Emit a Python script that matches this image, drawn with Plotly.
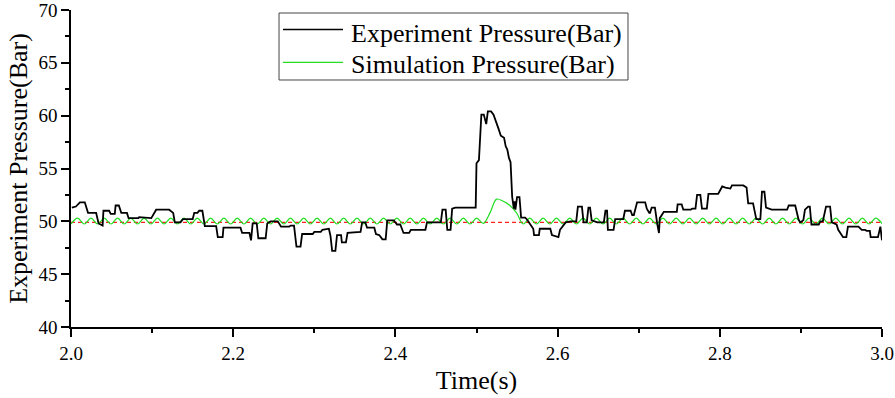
import plotly.graph_objects as go

# Experiment pressure (black) - time (s) and pressure (bar)
exp_t = [2.001, 2.006, 2.011, 2.017, 2.021, 2.031, 2.034, 2.039, 2.040, 2.047, 2.049, 2.054, 2.055, 2.059,
         2.062, 2.069, 2.071, 2.083, 2.084, 2.099, 2.105, 2.121, 2.126, 2.128, 2.135, 2.138, 2.150, 2.152,
         2.156, 2.158, 2.162, 2.164, 2.165, 2.179, 2.181, 2.187, 2.188, 2.209, 2.211, 2.220, 2.222, 2.224,
         2.229, 2.231, 2.240, 2.242, 2.246, 2.255, 2.259, 2.269, 2.271, 2.275, 2.278, 2.283, 2.285, 2.298,
         2.300, 2.308, 2.310, 2.318, 2.320, 2.322, 2.326, 2.328, 2.333, 2.334, 2.339, 2.341, 2.357, 2.359,
         2.363, 2.365, 2.374, 2.376, 2.380, 2.384, 2.388, 2.390, 2.398, 2.402, 2.406, 2.410, 2.417, 2.419,
         2.437, 2.439, 2.456, 2.458, 2.462, 2.464, 2.468, 2.470, 2.474, 2.499, 2.500, 2.503, 2.505, 2.506,
         2.509, 2.512, 2.514, 2.518, 2.521, 2.525, 2.527, 2.530, 2.534, 2.536, 2.538, 2.540, 2.542, 2.544,
         2.546, 2.547, 2.548, 2.550, 2.553, 2.555, 2.560, 2.562, 2.566, 2.570, 2.571, 2.577, 2.578, 2.591,
         2.593, 2.601, 2.603, 2.610, 2.616, 2.623, 2.625, 2.630, 2.632, 2.636, 2.638, 2.640, 2.642, 2.649,
         2.657, 2.659, 2.661, 2.662, 2.669, 2.671, 2.681, 2.683, 2.690, 2.692, 2.694, 2.698, 2.708, 2.710,
         2.713, 2.714, 2.716, 2.720, 2.723, 2.725, 2.726, 2.729, 2.731, 2.747, 2.748, 2.753, 2.755, 2.764,
         2.766, 2.770, 2.772, 2.776, 2.778, 2.784, 2.786, 2.798, 2.803, 2.807, 2.813, 2.815, 2.829, 2.833,
         2.835, 2.841, 2.845, 2.850, 2.852, 2.855, 2.857, 2.864, 2.883, 2.885, 2.893, 2.897, 2.899, 2.903,
         2.905, 2.909, 2.911, 2.913, 2.922, 2.924, 2.927, 2.931, 2.936, 2.938, 2.944, 2.946, 2.952, 2.956,
         2.958, 2.971, 2.975, 2.979, 2.981, 2.985, 2.986, 2.995, 2.998, 3.000]
exp_p = [51.3, 51.4, 51.8, 51.8, 50.8, 50.8, 49.8, 49.6, 51.0, 51.0, 50.7, 50.7, 51.5, 51.5,
         50.8, 50.8, 50.3, 50.3, 50.4, 50.3, 51.1, 51.1, 50.8, 49.9, 49.9, 50.2, 50.2, 50.8,
         50.8, 51.0, 51.0, 49.9, 49.55, 49.55, 48.5, 48.5, 49.4, 49.4, 48.9, 48.9, 48.2, 49.8,
         49.8, 48.4, 48.4, 49.8, 50.0, 50.0, 49.5, 49.5, 49.6, 49.6, 47.6, 47.6, 48.8, 48.8,
         49.0, 49.0, 49.2, 49.3, 48.6, 47.2, 47.2, 48.7, 48.7, 48.0, 48.0, 48.9, 49.0, 49.9,
         49.9, 49.4, 49.4, 48.8, 48.7, 48.3, 48.3, 50.1, 50.1, 49.7, 49.7, 48.9, 48.9, 49.2,
         49.2, 49.9, 49.9, 51.1, 51.1, 49.2, 49.2, 51.2, 51.3, 51.3, 55.5, 55.8, 58.3, 60.1,
         60.1, 59.2, 60.4, 60.4, 60.1, 59.1, 58.8, 58.1, 57.9, 57.1, 56.8, 56.0, 55.6, 52.3,
         51.2, 51.9, 51.1, 52.3, 52.3, 50.35, 50.35, 50.2, 49.8, 49.3, 48.7, 48.7, 49.3, 49.3,
         48.7, 48.5, 49.2, 49.9, 50.0, 50.0, 51.4, 51.4, 49.9, 49.9, 51.3, 51.3, 50.1, 49.9,
         49.9, 51.0, 51.0, 49.2, 49.2, 50.2, 50.2, 51.0, 51.0, 50.6, 50.6, 51.8, 51.8, 51.2,
         50.8, 50.8, 51.3, 51.3, 49.7, 48.9, 50.3, 50.6, 50.9, 50.9, 51.6, 51.6, 51.1, 51.1,
         51.2, 51.2, 52.5, 52.5, 51.2, 51.2, 52.6, 52.6, 53.3, 53.2, 53.1, 53.4, 53.4, 53.2,
         51.7, 51.7, 50.2, 50.2, 52.8, 52.8, 51.3, 51.1, 51.1, 51.5, 51.5, 50.2, 49.9, 50.1,
         51.1, 51.4, 51.4, 49.7, 49.7, 50.0, 50.0, 51.4, 51.4, 49.9, 49.7, 49.2, 48.5, 48.5,
         49.5, 49.5, 49.2, 49.2, 49.1, 49.1, 48.5, 48.5, 49.5, 48.2]

# Simulation pressure (green): half-period samples starting at 2.0 s
sim_t0 = 2.0
sim_dt = 0.0082
sim_p = [49.75, 50.3, 49.75, 50.3, 49.75, 50.3, 49.75, 50.3, 49.75, 50.3,
         49.75, 50.3, 49.75, 50.3, 49.75, 50.3, 49.75, 50.3, 49.75, 50.3,
         49.75, 50.3, 49.75, 50.3, 49.75, 50.3, 49.75, 50.3, 49.75, 50.3,
         49.75, 50.3, 49.75, 50.3, 49.75, 50.3, 49.75, 50.3, 49.75, 50.3,
         49.75, 50.3, 49.75, 50.3, 49.75, 50.3, 49.75, 50.3, 49.75, 50.3,
         49.75, 50.3, 49.75, 50.3, 49.75, 50.3, 49.75, 50.3, 49.75, 50.3,
         49.75, 50.3, 49.8, 50.8, 52.1, 51.9, 51.5, 50.8, 49.75, 50.3,
         49.75, 50.3, 49.75, 50.3, 49.75, 50.3, 49.75, 50.3, 49.75, 50.3,
         49.75, 50.3, 49.75, 50.3, 49.75, 50.3, 49.75, 50.3, 49.75, 50.3,
         49.75, 50.3, 49.75, 50.3, 49.75, 50.3, 49.75, 50.3, 49.75, 50.3,
         49.75, 50.3, 49.75, 50.3, 49.75, 50.3, 49.75, 50.3, 49.75, 50.3,
         49.75, 50.3, 49.75, 50.3, 49.75, 50.3, 49.75, 50.3, 49.75, 50.3,
         49.75, 50.3, 49.75]

# Reference line (red dashed)
ref_t = [2.0, 3.0]
ref_p = [49.9, 49.9]

legend_labels = ["Experiment Pressure(Bar)", "Simulation Pressure(Bar)"]
legend_colors = ["black", "#22DD22"]

FONT = "Liberation Serif"
TICKFONT = dict(family=FONT, size=19, color="black")

fig = go.Figure()
fig.add_trace(go.Scatter(x=ref_t, y=ref_p, mode="lines", showlegend=False,
                         line=dict(color="#FF2020", width=1.2, dash="4px,3px")))
fig.add_trace(go.Scatter(x0=sim_t0, dx=sim_dt, y=sim_p, mode="lines",
                         name=legend_labels[1], showlegend=False,
                         line=dict(color=legend_colors[1], width=1.2, shape="spline")))
fig.add_trace(go.Scatter(x=exp_t, y=exp_p, mode="lines",
                         name=legend_labels[0], showlegend=False,
                         line=dict(color=legend_colors[0], width=1.8)))

# Legend box drawn in paper coordinates (plot area: x 71..882 px, y 10..327 px)
shapes = [dict(type="rect", xref="paper", yref="paper", x0=0.2565, x1=0.6868, y0=0.7792, y1=0.9905,
               line=dict(color="#444", width=1), fillcolor="white", layer="above")]
annotations = []
for i, (lab, col) in enumerate(zip(legend_labels, legend_colors)):
    ly = [0.9382, 0.8350][i]
    shapes.append(dict(type="line", xref="paper", yref="paper", x0=0.2614, x1=0.3354, y0=ly, y1=ly,
                       line=dict(color=col, width=1.5 if i == 0 else 1.2), layer="above"))
    annotations.append(dict(text=lab, xref="paper", yref="paper", x=0.3428, y=[0.9266, 0.8296][i],
                            xanchor="left", yanchor="middle", showarrow=False,
                            font=dict(family=FONT, size=26, color="black")))

fig.update_layout(
    width=895, height=398,
    margin=dict(l=71, r=13, t=10, b=71, autoexpand=False),
    paper_bgcolor="white", plot_bgcolor="white",
    font=dict(family=FONT, color="black", size=19),
    showlegend=False,
    shapes=shapes, annotations=annotations,
    xaxis=dict(range=[2.0, 3.0], dtick=0.2, tickformat=".1f", automargin=False,
               ticklabeloverflow="allow",
               showgrid=False, zeroline=False,
               showline=True, linecolor="black", linewidth=1.5,
               ticks="outside", ticklen=8, tickwidth=1.5, tickcolor="black",
               minor=dict(dtick=0.1, ticks="outside", ticklen=4, tickwidth=1.5, tickcolor="black"),
               tickfont=TICKFONT,
               title=dict(text="Time(s)", font=dict(family=FONT, size=26, color="black"), standoff=8)),
    yaxis=dict(range=[40, 70], dtick=5, automargin=False,
               ticklabeloverflow="allow",
               showgrid=False, zeroline=False,
               showline=True, linecolor="black", linewidth=1.5,
               ticks="outside", ticklen=8, tickwidth=1.5, tickcolor="black",
               minor=dict(dtick=2.5, ticks="outside", ticklen=4, tickwidth=1.5, tickcolor="black"),
               tickfont=TICKFONT,
               title=dict(text="Experiment Pressure(Bar)", font=dict(family=FONT, size=26, color="black"),
                          standoff=3)),
)

fig.write_html("out.html", config={"displayModeBar": False},
               post_script="document.body.style.margin='0';document.body.style.overflow='hidden';")
